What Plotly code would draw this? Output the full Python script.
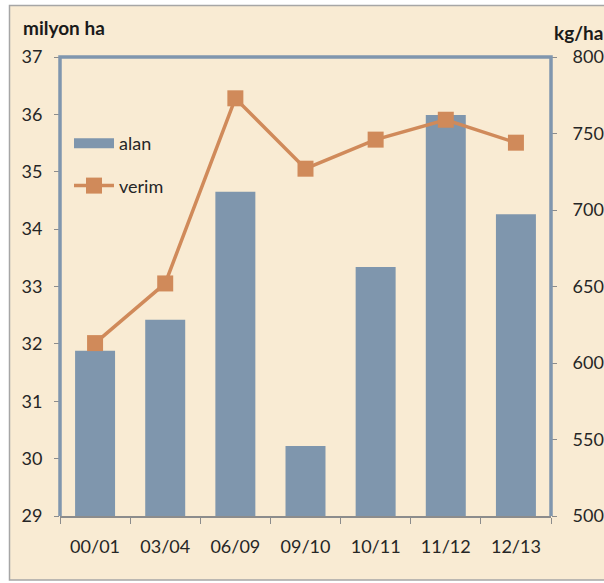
import plotly.graph_objects as go

categories = ["00/01", "03/04", "06/09", "09/10", "10/11", "11/12", "12/13"]
alan = [31.88, 32.42, 34.65, 30.22, 33.34, 35.99, 34.26]
verim = [613, 652, 773, 727, 746, 759, 744]
left_ticks = [29, 30, 31, 32, 33, 34, 35, 36, 37]
right_ticks = [500, 550, 600, 650, 700, 750, 800]

W, H = 604, 583
L, R, T, B = 60, 53, 57, 67
pw, ph = W - L - R, H - T - B

def px(x):
    return (x - L) / pw

def py(y):
    return (H - B - y) / ph

bar_col = "#7f96ad"
line_col = "#d08a5a"
beige = "#f9ebd3"
font = "Lato"

fig = go.Figure()
fig.add_trace(go.Bar(x=categories, y=alan, name="alan", marker_color=bar_col,
                     marker_line_width=0, yaxis="y", showlegend=False))
# legend swatch for the bars (wide rectangle like the original)
fig.add_trace(go.Scatter(x=[None], y=[None], name="alan", mode="lines",
                         line=dict(color=bar_col, width=14),
                         legendgroup="a", yaxis="y"))
fig.add_trace(go.Scatter(x=categories, y=verim, name="verim", mode="lines+markers",
                         line=dict(color=line_col, width=3.5),
                         marker=dict(symbol="square", size=16, color=line_col),
                         legendgroup="b", yaxis="y2"))

fig.update_layout(
    width=W, height=H,
    margin=dict(l=L, r=R, t=T, b=B, autoexpand=False),
    paper_bgcolor="white",
    plot_bgcolor="white",
    bargap=0.43,
    font=dict(family=font, size=16, color="#262626"),
    showlegend=True,
    legend=dict(x=px(69), y=py(125), xanchor="left", yanchor="top",
                bgcolor="rgba(0,0,0,0)", font=dict(size=18, color="#262626"),
                traceorder="grouped", tracegroupgap=16, itemwidth=40),
    xaxis=dict(showline=True, linecolor="#8c8c8c", linewidth=1.5,
               ticks="outside", ticklen=6, tickcolor="#8c8c8c",
               tickson="boundaries", showgrid=False, zeroline=False,
               tickfont=dict(size=18), ticklabelstandoff=14, automargin=False),
    yaxis=dict(range=[29, 37], tickvals=left_ticks, showgrid=False,
               zeroline=False, ticks="outside", ticklen=5, tickcolor="#8c8c8c",
               showline=False, tickfont=dict(size=18), ticklabelstandoff=8,
               automargin=False),
    yaxis2=dict(range=[500, 800], tickvals=right_ticks, overlaying="y",
                side="right", showgrid=False, zeroline=False, ticks="outside",
                ticklen=5, tickcolor="#8c8c8c", showline=False,
                tickfont=dict(size=18), ticklabelstandoff=12, automargin=False),
    shapes=[
        dict(type="rect", xref="paper", yref="paper", layer="below",
             x0=px(9.5), x1=px(610), y0=py(580), y1=py(5.5),
             fillcolor=beige, line=dict(color="#a6a6a6", width=1.5)),
        dict(type="path", xref="paper", yref="paper", layer="above",
             path="M 0 0 L 0 1 L 1 1 L 1 0",
             line=dict(color="#8096ae", width=3.5)),
    ],
    annotations=[
        dict(text="<b>milyon ha</b>", xref="paper", yref="paper",
             x=px(21), y=py(27), xanchor="left", yanchor="middle",
             showarrow=False, font=dict(size=19, color="#1a1a1a")),
        dict(text="<b>kg/ha</b>", xref="paper", yref="paper",
             x=px(552), y=py(32), xanchor="left", yanchor="middle",
             showarrow=False, font=dict(size=19, color="#1a1a1a")),
    ],
)

fig.write_html("out.html", config={"displayModeBar": False},
               post_script="document.body.style.margin='0';"
                           "document.body.style.overflow='hidden';")
